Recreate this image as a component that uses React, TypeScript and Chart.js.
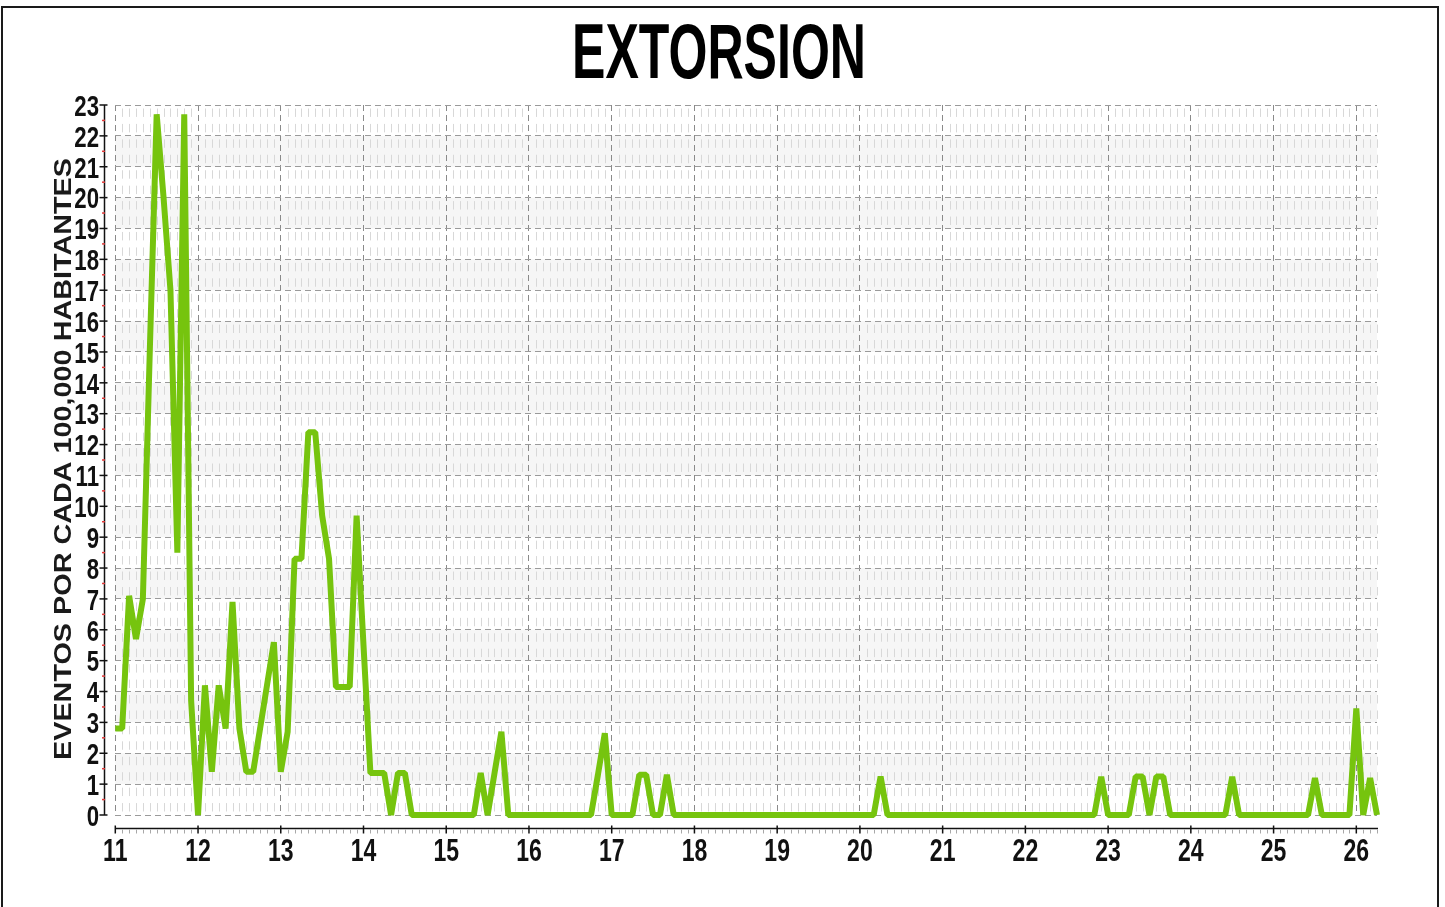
import React, { useEffect, useRef } from "react";
import { Chart, registerables } from "chart.js";

Chart.register(...registerables);

const TITLE = "EXTORSION";
const Y_TITLE = "EVENTOS POR CADA 100,000 HABITANTES";
const START_YEAR = 11; // January 2011, one point per month
const END_X = 26.25;
const YEAR_TICKS = [11, 12, 13, 14, 15, 16, 17, 18, 19, 20, 21, 22, 23, 24, 25, 26];
const Y_TICKS = [0, 1, 2, 3, 4, 5, 6, 7, 8, 9, 10, 11, 12, 13, 14, 15, 16, 17, 18, 19, 20, 21, 22, 23];

const v2011 = [2.8, 2.8, 7.1, 5.7, 7.0, 15.0, 22.7, 20.0, 17.0, 8.5, 22.7, 3.7];
const v2012 = [0, 4.2, 1.4, 4.2, 2.8, 6.9, 2.8, 1.4, 1.4, 2.8, 4.2, 5.6];
const v2013 = [1.4, 2.7, 8.3, 8.3, 12.4, 12.4, 9.7, 8.3, 4.15, 4.15, 4.15, 9.7];
const v2014 = [5.5, 1.36, 1.36, 1.36, 0, 1.36, 1.36, 0, 0, 0, 0, 0];
const v2015 = [0, 0, 0, 0, 0, 1.36, 0, 1.35, 2.7, 0, 0, 0];
const v2016 = [0, 0, 0, 0, 0, 0, 0, 0, 0, 0, 1.3, 2.65];
const v2017 = [0, 0, 0, 0, 1.3, 1.3, 0, 0, 1.3, 0, 0, 0];
const v2018 = [0, 0, 0, 0, 0, 0, 0, 0, 0, 0, 0, 0];
const v2019 = [0, 0, 0, 0, 0, 0, 0, 0, 0, 0, 0, 0];
const v2020 = [0, 0, 0, 1.25, 0, 0, 0, 0, 0, 0, 0, 0];
const v2021 = [0, 0, 0, 0, 0, 0, 0, 0, 0, 0, 0, 0];
const v2022 = [0, 0, 0, 0, 0, 0, 0, 0, 0, 0, 0, 1.24];
const v2023 = [0, 0, 0, 0, 1.25, 1.25, 0, 1.25, 1.25, 0, 0, 0];
const v2024 = [0, 0, 0, 0, 0, 0, 1.24, 0, 0, 0, 0, 0];
const v2025 = [0, 0, 0, 0, 0, 0, 1.2, 0, 0, 0, 0, 0];
const v2026 = [3.45, 0, 1.2, 0];

const VALUES = [
  ...v2011, ...v2012, ...v2013, ...v2014, ...v2015, ...v2016, ...v2017, ...v2018,
  ...v2019, ...v2020, ...v2021, ...v2022, ...v2023, ...v2024, ...v2025, ...v2026,
];

const GREEN = "#76c40e";
const BOLD_FONT = '"Liberation Sans", Arial, sans-serif';

const decor = {
  id: "decor",
  beforeDraw(chart: any) {
    const { ctx, chartArea: a, scales } = chart;
    const y = scales.y;
    ctx.save();
    ctx.fillStyle = "#f6f6f6";
    for (let v = 1; v < 23; v += 2) {
      const top = y.getPixelForValue(v + 1);
      const bot = y.getPixelForValue(v);
      ctx.fillRect(a.left, top, a.right - a.left, bot - top);
    }
    ctx.restore();
  },
  beforeDatasetsDraw(chart: any) {
    const { ctx, chartArea: a, scales } = chart;
    const x = scales.x;
    const y = scales.y;
    ctx.save();
    ctx.strokeStyle = "#d8d8d8";
    ctx.lineWidth = 1;
    const unit = y.getPixelForValue(0) - y.getPixelForValue(1);
    ctx.setLineDash([unit / 2 - 7, 7]);
    ctx.lineDashOffset = -3.5;
    for (let i = 0; i < VALUES.length; i++) {
      if (i % 12 === 0) continue;
      const px = Math.round(x.getPixelForValue(START_YEAR + i / 12)) + 0.5;
      ctx.beginPath();
      ctx.moveTo(px, a.top);
      ctx.lineTo(px, a.bottom);
      ctx.stroke();
    }
    ctx.restore();
  },
  afterDraw(chart: any) {
    const { ctx, chartArea: a, scales } = chart;
    const x = scales.x;
    const y = scales.y;
    ctx.save();
    // y axis line and ticks
    const ax = 104.5;
    ctx.strokeStyle = "#111";
    ctx.lineWidth = 1.5;
    ctx.beginPath();
    ctx.moveTo(ax, a.top);
    ctx.lineTo(ax, a.bottom);
    ctx.stroke();
    for (const t of y.ticks) {
      const py = y.getPixelForValue(t.value);
      ctx.beginPath();
      ctx.moveTo(ax - 5, py);
      ctx.lineTo(ax + 3, py);
      ctx.stroke();
    }
    ctx.strokeStyle = "#e23a3a";
    for (let v = 0.5; v < 23; v += 1) {
      const py = y.getPixelForValue(v);
      ctx.beginPath();
      ctx.moveTo(ax - 2.5, py);
      ctx.lineTo(ax + 0.5, py);
      ctx.stroke();
    }
    // x axis line and ticks
    const ay = 828.5;
    ctx.strokeStyle = "#111";
    ctx.beginPath();
    ctx.moveTo(a.left, ay);
    ctx.lineTo(a.right + 1, ay);
    ctx.stroke();
    ctx.strokeStyle = "#a8a8a8";
    ctx.lineWidth = 1;
    for (let i = 0; i < VALUES.length; i++) {
      if (i % 12 === 0) continue;
      const px = Math.round(x.getPixelForValue(START_YEAR + i / 12)) + 0.5;
      ctx.beginPath();
      ctx.moveTo(px, ay + 1);
      ctx.lineTo(px, ay + 5);
      ctx.stroke();
    }
    ctx.strokeStyle = "#111";
    ctx.lineWidth = 1.5;
    for (const t of x.ticks) {
      const px = x.getPixelForValue(t.value);
      ctx.beginPath();
      ctx.moveTo(px, ay - 3);
      ctx.lineTo(px, ay + 5);
      ctx.stroke();
    }
    // tick labels (condensed)
    ctx.fillStyle = "#111";
    ctx.textBaseline = "alphabetic";
    ctx.font = `bold 30px ${BOLD_FONT}`;
    ctx.textAlign = "right";
    for (const t of y.ticks) {
      const py = y.getPixelForValue(t.value);
      ctx.save();
      ctx.translate(99, py + 10.8);
      ctx.scale(0.74, 1);
      ctx.fillText(String(t.value), 0, 0);
      ctx.restore();
    }
    ctx.font = `bold 32px ${BOLD_FONT}`;
    ctx.textAlign = "center";
    for (const t of x.ticks) {
      const px = x.getPixelForValue(t.value);
      ctx.save();
      ctx.translate(px, 861);
      ctx.scale(0.72, 1);
      ctx.fillText(String(t.value), 0, 0);
      ctx.restore();
    }
    // main title
    ctx.fillStyle = "#000";
    ctx.font = `bold 78px ${BOLD_FONT}`;
    ctx.textAlign = "center";
    const tw = ctx.measureText(TITLE).width;
    ctx.save();
    ctx.translate(719, 78);
    ctx.scale(294 / tw, 1);
    ctx.fillText(TITLE, 0, 0);
    ctx.restore();
    // y axis title
    ctx.font = `bold 23px ${BOLD_FONT}`;
    const yw = ctx.measureText(Y_TITLE).width;
    ctx.save();
    ctx.translate(71, 459);
    ctx.rotate(-Math.PI / 2);
    ctx.scale(602 / yw, 1);
    ctx.fillStyle = "#1a1a1a";
    ctx.fillText(Y_TITLE, 0, 0);
    ctx.restore();
    ctx.restore();
  },
};

export default function App() {
  const canvasRef = useRef<HTMLCanvasElement | null>(null);

  useEffect(() => {
    const canvas = canvasRef.current;
    if (!canvas) return;
    const points = VALUES.map((v, i) => ({ x: START_YEAR + i / 12, y: v }));
    const chart = new Chart(canvas, {
      type: "line",
      data: {
        datasets: [
          {
            data: points,
            borderColor: GREEN,
            backgroundColor: GREEN,
            borderWidth: 6,
            borderJoinStyle: "bevel",
            pointRadius: 0,
            tension: 0,
            fill: false,
            clip: 5,
          },
        ],
      },
      options: {
        animation: false,
        responsive: false,
        events: [],
        layout: { padding: { left: 0, right: 1445 - 1377, top: 105, bottom: 0 } },
        plugins: { legend: { display: false }, tooltip: { enabled: false }, title: { display: false } },
        scales: {
          x: {
            type: "linear",
            min: START_YEAR,
            max: END_X,
            afterBuildTicks: (s: any) => {
              s.ticks = YEAR_TICKS.map((v) => ({ value: v }));
            },
            afterFit: (s: any) => {
              s.height = 92;
            },
            grid: { color: "#8a8a8a", lineWidth: 1, drawTicks: false },
            border: { display: false, dash: [6, 4] },
            ticks: { display: false, autoSkip: false, maxRotation: 0 },
          },
          y: {
            type: "linear",
            min: 0,
            max: 23,
            afterBuildTicks: (s: any) => {
              s.ticks = Y_TICKS.map((v) => ({ value: v }));
            },
            afterFit: (s: any) => {
              s.width = 115.3;
            },
            grid: { color: "#9a9a9a", lineWidth: 1, drawTicks: false },
            border: { display: false, dash: [6, 4] },
            ticks: { display: false, autoSkip: false },
          },
        },
      },
      plugins: [decor],
    });
    return () => chart.destroy();
  }, []);

  return (
    <div style={{ position: "fixed", left: 0, top: 0, width: 1445, height: 907, background: "#fff", overflow: "hidden" }}>
      <canvas ref={canvasRef} width={1445} height={907} style={{ position: "absolute", left: 0, top: 0, width: 1445, height: 907 }} />
      <div
        style={{
          position: "absolute",
          left: 1,
          top: 6,
          width: 1438,
          height: 910,
          border: "2px solid #1a1a1a",
          boxSizing: "border-box",
          pointerEvents: "none",
        }}
      />
    </div>
  );
}
